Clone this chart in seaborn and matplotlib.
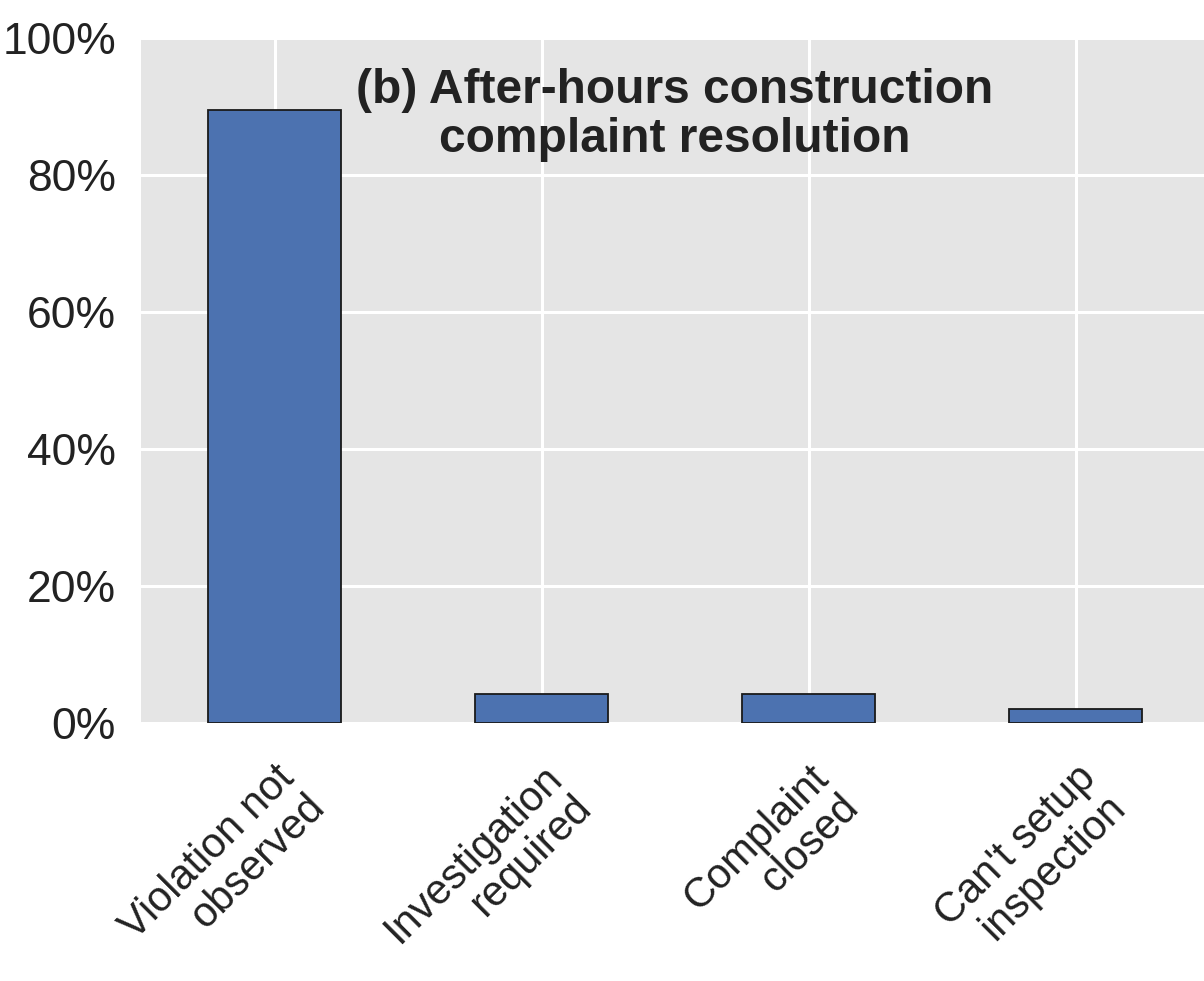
import seaborn as sns
import matplotlib
matplotlib.use("Agg")
import matplotlib.pyplot as plt
from matplotlib.ticker import PercentFormatter

categories = ["Violation not\nobserved", "Investigation\nrequired",
              "Complaint\nclosed", "Can't setup\ninspection"]
shares = [0.895, 0.042, 0.042, 0.021]
y_ticks = [0.0, 0.2, 0.4, 0.6, 0.8, 1.0]
title = "(b) After-hours construction\ncomplaint resolution"

sns.set_theme(style="darkgrid", rc={
    "axes.facecolor": "#E5E5E5",
    "grid.color": "white",
    "grid.linewidth": 2.2,
    "text.color": "#222222",
    "xtick.color": "#222222",
    "ytick.color": "#222222",
})
plt.rcParams["font.family"] = ["Liberation Sans", "DejaVu Sans"]

fig = plt.figure(figsize=(12.04, 9.81), dpi=100)
ax = fig.add_axes([141 / 1204, 258 / 981, 1068 / 1204, 685 / 981])

sns.barplot(x=categories, y=shares, color="#4C72B0", saturation=1,
            width=0.5, edgecolor="#1a1a1a", linewidth=1.3, ax=ax)

ax.xaxis.grid(True)
ax.yaxis.grid(True)
ax.set_xlim(-0.5, 3.5)
ax.set_ylim(0, 1)
ax.set_yticks(y_ticks)
ax.yaxis.set_major_formatter(PercentFormatter(1.0, decimals=0))
for s in ax.spines.values():
    s.set_visible(False)

ax.tick_params(axis="y", labelsize=32, length=3, width=1, color="#555555", pad=15)
ax.tick_params(axis="x", labelsize=30, length=3, width=1, color="#999999", pad=22)
plt.setp(ax.get_xticklabels(), rotation=45, ha="right", rotation_mode="anchor",
         linespacing=1.06)

ax.text(0.5, 0.956, title, transform=ax.transAxes, ha="center", va="top",
        fontsize=34.5, fontweight="bold", linespacing=1.12)

fig.savefig("out.png", dpi=100)
